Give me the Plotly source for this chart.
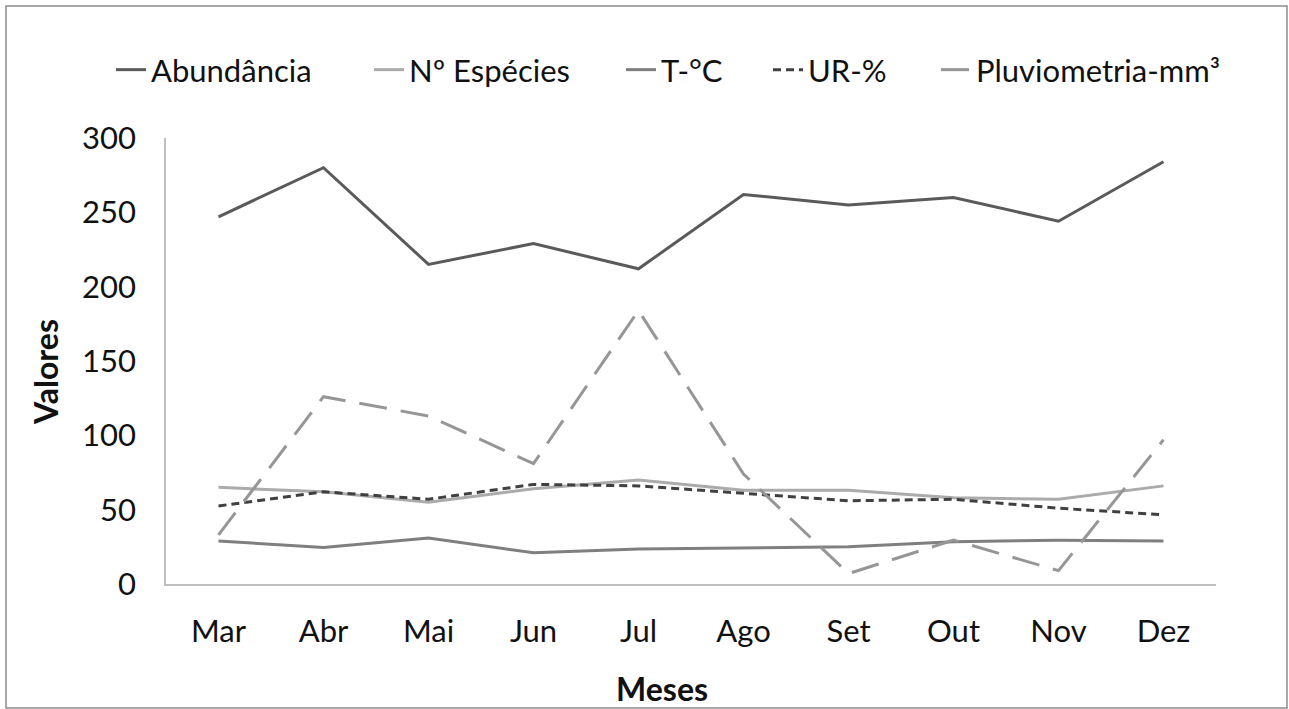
import plotly.graph_objects as go

meses = ["Mar", "Abr", "Mai", "Jun", "Jul", "Ago", "Set", "Out", "Nov", "Dez"]
abundancia = [247, 280, 215, 229, 212, 262, 255, 260, 244, 284]
especies = [65, 62, 55, 64, 70, 63, 63, 58, 57, 66]
temperatura = [29, 24.5, 31, 21, 23.5, 24, 25, 28.5, 29.5, 29]
umidade = [52.5, 62, 57, 67, 66, 61, 56, 57, 51, 46.5]
pluviometria = [33, 126, 113, 81, 184, 74, 7, 29.5, 9, 97]

FONT = "Lato"
W, H = 1289, 709

fig = go.Figure()
series = [
    ("Abundância", abundancia, "#5a5a5a", "solid", 151),
    ("Nº Espécies", especies, "#ababab", "solid", 409),
    ("T-°C", temperatura, "#7f7f7f", "solid", 661),
    ("UR-%", umidade, "#404040", "dash", 808),
    ("Pluviometria-mm³", pluviometria, "#969696", "longdash", 976),
]
layout_legends = {}
for i, (name, vals, color, dash, tx) in enumerate(series):
    if dash == "dash":
        d = "8px,5px"
    elif dash == "longdash":
        d = "28px,14px"
    else:
        d = "solid"
    key = "legend" if i == 0 else f"legend{i + 1}"
    fig.add_trace(go.Scatter(x=meses, y=vals, name=name, mode="lines", legend=key,
                             line=dict(color=color, width=3, dash=d)))
    layout_legends[key] = dict(xref="container", yref="container",
                               x=(tx - 40) / W, xanchor="left",
                               y=1 - 70 / H, yanchor="middle",
                               font=dict(size=31, family=FONT, color="#111111"),
                               bgcolor="rgba(0,0,0,0)", itemwidth=30)

fig.update_layout(
    width=W, height=H,
    margin=dict(l=166, r=73, t=138, b=125, autoexpand=False),
    paper_bgcolor="white", plot_bgcolor="white",
    font=dict(family=FONT, size=31, color="#111111"),
    showlegend=True,
    xaxis=dict(showgrid=False, showline=True, linecolor="#bfbfbf", linewidth=1.5,
               ticks="", ticklabelstandoff=19, range=[-0.5, 9.5], automargin=False),
    yaxis=dict(showgrid=False, showline=True, linecolor="#bfbfbf", linewidth=1.5,
               range=[0, 300], dtick=50, ticks="", ticklabelstandoff=22, automargin=False,
               zeroline=False),
    annotations=[
        dict(text="<b>Valores</b>", xref="paper", yref="paper",
             x=(45 - 166) / 1050, y=(584 - 372) / 446, textangle=-90,
             showarrow=False, xanchor="center", yanchor="middle",
             font=dict(size=32, family=FONT, color="#111111")),
        dict(text="<b>Meses</b>", xref="paper", yref="paper",
             x=(662 - 166) / 1050, y=(584 - 688) / 446,
             showarrow=False, xanchor="center", yanchor="middle",
             font=dict(size=32, family=FONT, color="#111111")),
    ],
    **layout_legends,
)
fig.add_shape(type="rect", xref="paper", yref="paper",
              x0=-160 / 1050, x1=1121 / 1050, y0=(584 - 708) / 446, y1=(584 - 6) / 446,
              line=dict(color="#8c8c8c", width=1.5), fillcolor="rgba(0,0,0,0)")

fig.write_html("out.html")
